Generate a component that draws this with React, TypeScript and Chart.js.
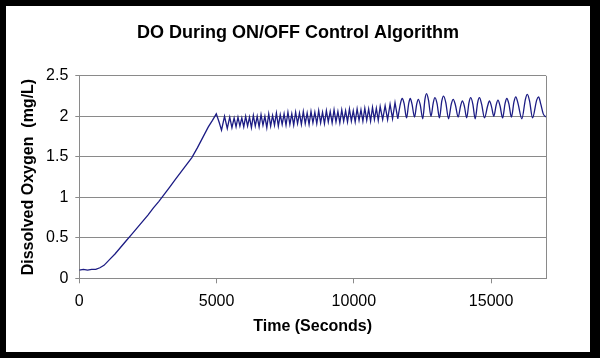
import { useEffect, useRef } from "react";
import { Chart, registerables } from "chart.js";

Chart.register(...registerables);

const chartTitle = "DO During ON/OFF Control Algorithm";
const xTitle = "Time (Seconds)";
const yTitle = "Dissolved Oxygen  (mg/L)";
const xTicks = [0, 5000, 10000, 15000];
const yTicks = [0, 0.5, 1, 1.5, 2, 2.5];

// Initial aeration ramp
const rampTimes = [0, 150, 300, 450, 600, 750, 900, 1100, 1300, 1500, 1700, 1900, 2100, 2300, 2500, 2700, 2900, 3100, 3300, 3500, 3700, 3900, 4100, 4300, 4500, 4700, 4850, 4990];
const rampValues = [0.10, 0.11, 0.10, 0.11, 0.11, 0.13, 0.16, 0.23, 0.30, 0.38, 0.46, 0.54, 0.62, 0.70, 0.78, 0.87, 0.95, 1.04, 1.13, 1.22, 1.31, 1.40, 1.49, 1.61, 1.74, 1.87, 1.95, 2.03];

// Fast ON/OFF switching around the 2 mg/L set point
const holdTimes = [
  5100, 5180, 5290, 5390, 5480, 5560, 5640, 5710, 5780, 5850, 5920, 5990, 6060, 6130, 6200, 6270, 6340, 6410, 6480, 6550,
  6620, 6690, 6760, 6830, 6900, 6970, 7040, 7110, 7180, 7250, 7320, 7390, 7460, 7530, 7600, 7670, 7740, 7810, 7880, 7950,
  8020, 8090, 8160, 8230, 8300, 8370, 8440, 8510, 8580, 8650, 8720, 8790, 8860, 8930, 9000, 9070, 9140, 9210, 9280, 9350,
  9420, 9490, 9560, 9630, 9700, 9770, 9840, 9910, 9980, 10050, 10120, 10190, 10260, 10330, 10400, 10470, 10540, 10610, 10680, 10750,
  10820, 10890, 10960, 11050, 11140, 11230, 11320, 11410, 11500, 11600,
];
const holdValues = [
  1.92, 1.83, 2.00, 1.85, 1.99, 1.86, 1.98, 1.87, 1.99, 1.88, 1.98, 1.87, 2.00, 1.88, 1.99, 1.86, 2.01, 1.88, 2.00, 1.87,
  2.02, 1.89, 2.00, 1.86, 2.03, 1.88, 2.01, 1.89, 2.04, 1.88, 2.02, 1.90, 2.03, 1.89, 2.05, 1.90, 2.03, 1.89, 2.05, 1.91,
  2.04, 1.90, 2.06, 1.91, 2.04, 1.90, 2.06, 1.92, 2.05, 1.91, 2.07, 1.92, 2.05, 1.91, 2.07, 1.93, 2.06, 1.92, 2.08, 1.93,
  2.06, 1.92, 2.08, 1.94, 2.07, 1.93, 2.09, 1.94, 2.07, 1.93, 2.09, 1.95, 2.08, 1.94, 2.10, 1.95, 2.09, 1.94, 2.11, 1.96,
  2.10, 1.95, 2.12, 1.96, 2.13, 1.96, 2.15, 1.97, 2.17, 1.97,
];

// Slower, larger cycles late in the run
const cycleTimes = [
  11600, 11700, 11760, 11830, 11920, 12000, 12055, 12120, 12210, 12290, 12350, 12420, 12510,
  12590, 12650, 12720, 12810, 12895, 12955, 13030, 13120, 13205, 13270, 13350, 13450,
  13550, 13620, 13700, 13800, 13890, 13955, 14030, 14110, 14195, 14260, 14335, 14420,
  14510, 14575, 14655, 14760, 14875, 14940, 15015, 15100, 15185, 15250, 15325, 15420,
  15510, 15575, 15650, 15740, 15835, 15900, 15980, 16120, 16250, 16320, 16400, 16510,
  16660, 16730, 16810, 16900, 17000,
];
const cycleValues = [
  1.97, 2.16, 2.22, 2.16, 1.98, 2.16, 2.22, 2.15, 1.99, 2.15, 2.21, 2.14, 1.97,
  2.21, 2.28, 2.20, 2.00, 2.17, 2.23, 2.16, 1.98, 2.19, 2.25, 2.17, 1.97,
  2.15, 2.21, 2.14, 1.99, 2.13, 2.19, 2.12, 1.98, 2.17, 2.23, 2.15, 1.97,
  2.17, 2.23, 2.15, 1.98, 2.13, 2.19, 2.12, 2.00, 2.14, 2.20, 2.13, 1.98,
  2.16, 2.22, 2.15, 1.99, 2.18, 2.24, 2.16, 1.97, 2.21, 2.27, 2.19, 1.98,
  2.20, 2.24, 2.15, 2.03, 1.99,
];

const FONT = "'Liberation Sans', Arial, Helvetica, sans-serif";
const GRID = "#8a8a8a";
const LINE = "#1c1c84";

export default function App() {
  const ref = useRef<HTMLCanvasElement>(null);

  useEffect(() => {
    const early = [...rampTimes, ...holdTimes].map((t, i) => ({ x: t, y: [...rampValues, ...holdValues][i] }));
    const late = cycleTimes.map((t, i) => ({ x: t, y: cycleValues[i] }));

    const framePlugin = {
      id: "plotFrame",
      afterDraw(chart: any) {
        const { ctx, chartArea } = chart;
        const x = Math.round(chartArea.right) + 0.5;
        ctx.save();
        ctx.strokeStyle = GRID;
        ctx.lineWidth = 1;
        ctx.beginPath();
        ctx.moveTo(x, chartArea.top);
        ctx.lineTo(x, chartArea.bottom);
        ctx.stroke();
        ctx.restore();
      },
    };

    const chart = new Chart(ref.current as HTMLCanvasElement, {
      type: "line",
      data: {
        datasets: [
          {
            data: early,
            borderColor: LINE,
            borderWidth: 1.3,
            pointRadius: 0,
            tension: 0,
            fill: false,
          },
          {
            data: late,
            borderColor: LINE,
            borderWidth: 1.3,
            pointRadius: 0,
            cubicInterpolationMode: "monotone",
            fill: false,
          },
        ],
      },
      options: {
        animation: false,
        responsive: false,
        maintainAspectRatio: false,
        layout: { padding: { left: 0, right: 0, top: 0, bottom: 0 } },
        plugins: {
          legend: { display: false },
          tooltip: { enabled: false },
          title: {
            display: true,
            text: chartTitle,
            color: "#000",
            font: { family: FONT, size: 18, weight: "bold" },
            padding: { top: 16.7, bottom: 31.5 },
          },
        },
        scales: {
          x: {
            type: "linear",
            min: 0,
            max: 17000,
            afterBuildTicks: (s: any) => {
              s.ticks = xTicks.map((v) => ({ value: v }));
            },
            afterFit: (s: any) => {
              s.height = 73.7;
            },
            grid: { drawOnChartArea: false, tickLength: 5, color: GRID },
            border: { color: GRID },
            ticks: {
              color: "#000",
              font: { family: FONT, size: 16 },
              padding: 8.8,
              maxRotation: 0,
              callback: (v: any) => String(v),
            },
            title: {
              display: true,
              text: xTitle,
              color: "#000",
              font: { family: FONT, size: 16, weight: "bold" },
              padding: { top: 0, bottom: 15.4 },
            },
          },
          y: {
            type: "linear",
            position: "left",
            min: 0,
            max: 2.5,
            afterBuildTicks: (s: any) => {
              s.ticks = yTicks.map((v) => ({ value: v }));
            },
            afterFit: (s: any) => {
              s.width = 73.3;
            },
            grid: { color: GRID, tickLength: 4 },
            border: { color: GRID },
            ticks: {
              color: "#000",
              font: { family: FONT, size: 16 },
              padding: 7,
              callback: (v: any) => String(v),
            },
            title: {
              display: true,
              text: yTitle,
              color: "#000",
              font: { family: FONT, size: 16, weight: "bold" },
              padding: { top: 13.4, bottom: 0 },
            },
          },
          yRight: {
            type: "linear",
            position: "right",
            min: 0,
            max: 2.5,
            grid: { display: false, drawTicks: false },
            border: { display: false },
            ticks: { display: false },
            afterFit: (s: any) => {
              s.width = 44;
            },
          },
        },
      },
      plugins: [framePlugin],
    } as any);

    return () => chart.destroy();
  }, []);

  return (
    <div
      style={{
        position: "fixed",
        left: 0,
        top: 0,
        width: 600,
        height: 358,
        background: "#000",
      }}
    >
      <canvas
        ref={ref}
        width={584}
        height={346}
        style={{ position: "absolute", left: 6, top: 6, width: 584, height: 346, background: "#fff" }}
      />
    </div>
  );
}
